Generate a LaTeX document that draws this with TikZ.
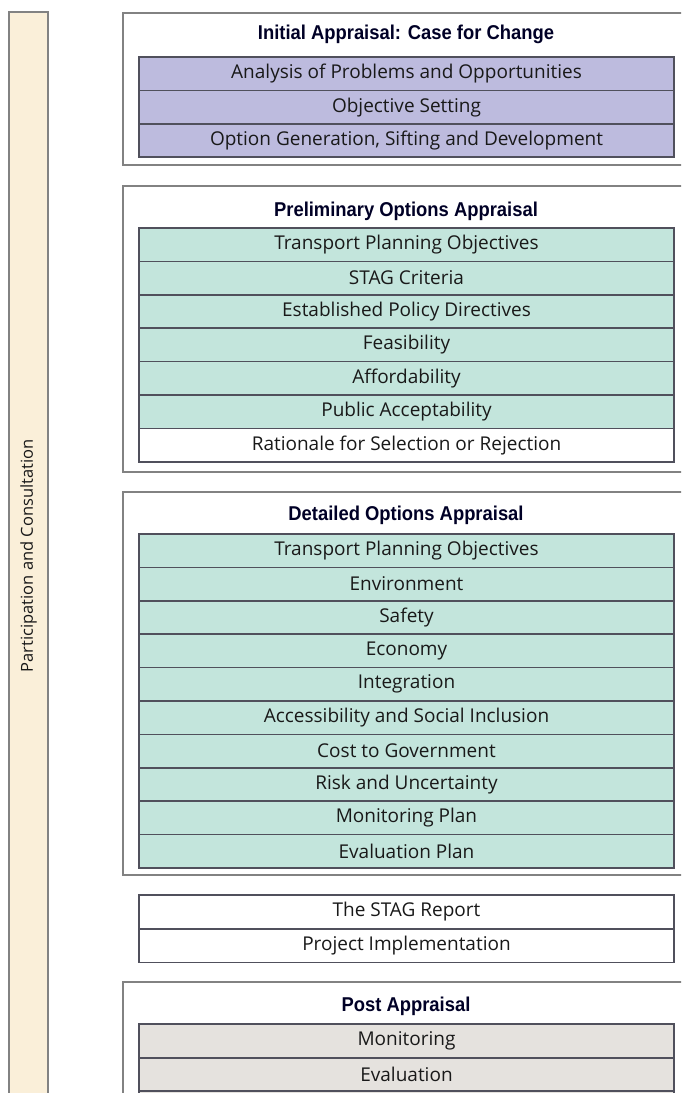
\documentclass[tikz,border=0pt]{standalone}
\usepackage{fontspec}
\newfontfamily\rowfont{Open Sans}
\newfontfamily\headfont[FakeStretch=0.92]{Liberation Sans}
\usetikzlibrary{positioning}

\definecolor{barfill}{RGB}{250,239,217}
\definecolor{lilac}{RGB}{189,187,222}
\definecolor{mint}{RGB}{195,229,220}
\definecolor{stone}{RGB}{229,226,222}
\definecolor{rulegrey}{RGB}{80,80,92}
\definecolor{framegrey}{RGB}{130,130,130}

\tikzset{
	groupbox/.style={draw=framegrey, line width=2pt},
	row/.style={draw=rulegrey, line width=1.5pt, minimum width=535pt, minimum height=33.4pt,
		inner sep=0pt, outer sep=0pt, text=black!90, font=\rowfont\fontsize{19}{19}\selectfont},
	heading/.style={text=black!85!blue, font=\headfont\bfseries\fontsize{20}{20}\selectfont},
	pcbar/.style={rotate=90, draw=framegrey, line width=2pt, fill=barfill, minimum width=1088pt,
		minimum height=39pt, text=black!90, font=\rowfont\fontsize{16.5}{16.5}\selectfont}
}

\begin{document}
\begin{tikzpicture}[x=1pt,y=-1pt]
	\useasboundingbox (0,0) rectangle (681,1093);
	\clip (0,0) rectangle (681,1093);

	% side bar
	\node[pcbar] (consult) at (28.5,556) {Participation and Consultation};

	% initial appraisal
	\draw[groupbox] (123,13) rectangle (695,165);
	\node[heading] (initT) at (406,34) {Initial Appraisal: Case for Change};
	\coordinate (init0) at (406.5,57);
	\foreach \t [count=\i, remember=\i as \j (initially 0)] in
		{Analysis of Problems and Opportunities, Objective Setting, {Option Generation, Sifting and Development}}
		\node[row, fill=lilac, below=0pt of init\j] (init\i) {\t};

	% preliminary options
	\draw[groupbox] (123,186) rectangle (695,472);
	\node[heading] (preT) at (406,211) {Preliminary Options Appraisal};
	\coordinate (pre0) at (406.5,228);
	\foreach \t [count=\i, remember=\i as \j (initially 0)] in
		{Transport Planning Objectives, STAG Criteria, Established Policy Directives,
		 Feasibility, Affordability, Public Acceptability}
		\node[row, fill=mint, below=0pt of pre\j] (pre\i) {\t};
	\node[row, fill=white, below=0pt of pre6] (pre7) {Rationale for Selection or Rejection};

	% detailed options
	\draw[groupbox] (123,492) rectangle (695,875);
	\node[heading] (detT) at (406,515) {Detailed Options Appraisal};
	\coordinate (det0) at (406.5,534);
	\foreach \t [count=\i, remember=\i as \j (initially 0)] in
		{Transport Planning Objectives, Environment, Safety, Economy, Integration,
		 Accessibility and Social Inclusion, Cost to Government, Risk and Uncertainty,
		 Monitoring Plan, Evaluation Plan}
		\node[row, fill=mint, below=0pt of det\j] (det\i) {\t};

	% report and implementation
	\node[row, fill=white, minimum height=33.8pt] (report) at (406.5,912) {The STAG Report};
	\node[row, fill=white, minimum height=33.8pt, below=0pt of report] (implement) {Project Implementation};

	% post appraisal
	\draw[groupbox] (123,982) rectangle (695,1120);
	\node[heading] (postT) at (406,1006) {Post Appraisal};
	\node[row, fill=stone, minimum height=34pt] (post1) at (406.5,1041) {Monitoring};
	\node[row, fill=stone, minimum height=33pt, below=0pt of post1] (post2) {Evaluation};
	\node[row, fill=stone, below=0pt of post2] (post3) {};
\end{tikzpicture}
\end{document}
